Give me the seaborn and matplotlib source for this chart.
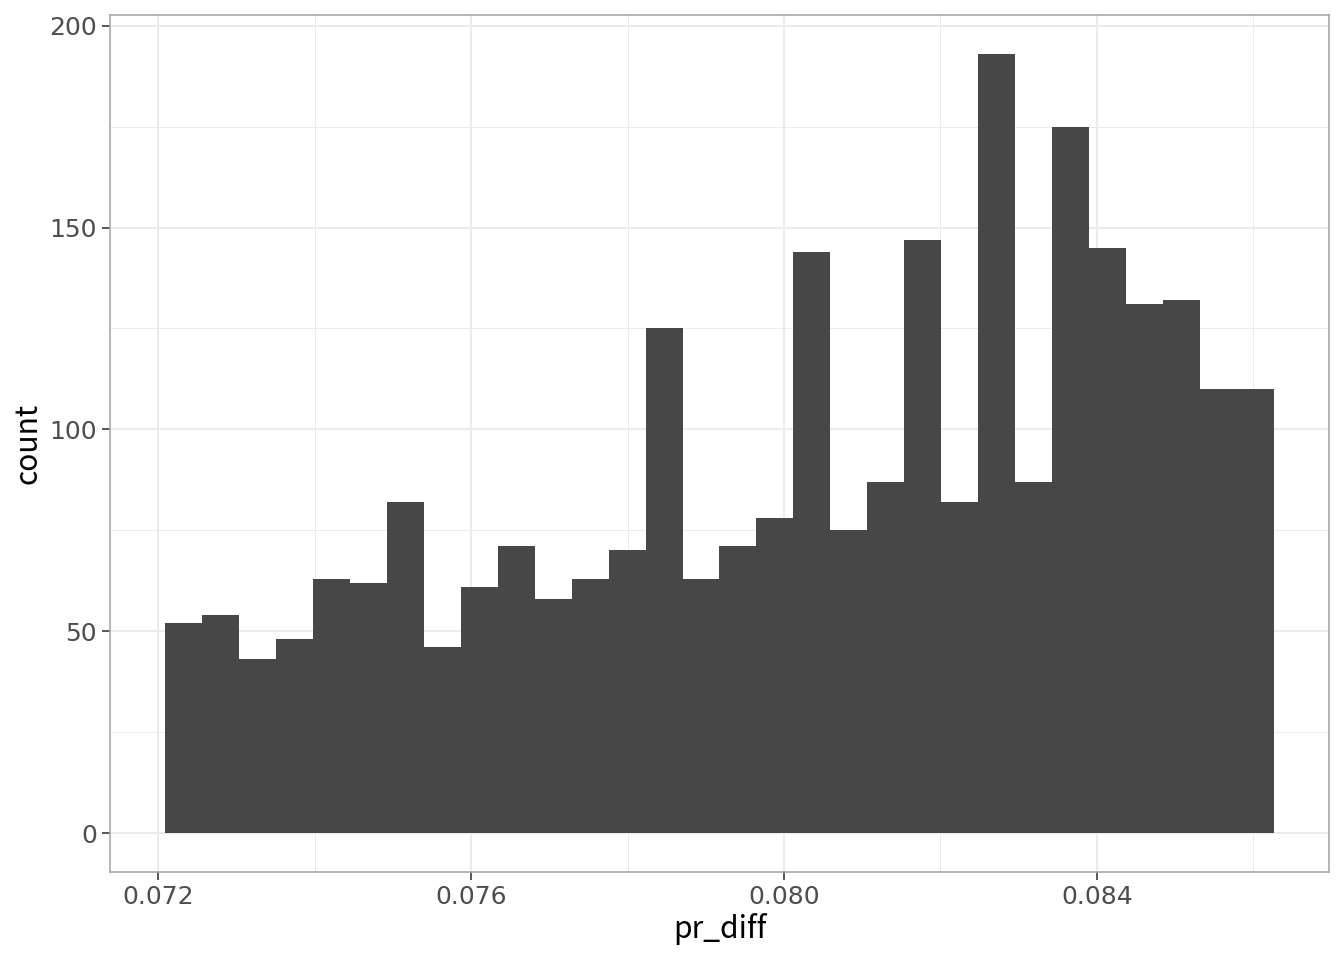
import numpy as np
import pandas as pd
import seaborn as sns
from matplotlib import pyplot as plt
from matplotlib.ticker import MultipleLocator

# histogram of pr_diff: 30 bins, counts
bin_start = 0.07209
bin_width = 0.0004723
counts = [52, 54, 43, 48, 63, 62, 82, 46, 61, 71,
          58, 63, 70, 125, 63, 71, 78, 144, 75, 87,
          147, 82, 193, 87, 175, 145, 131, 132, 110, 110]
x_ticks = [0.072, 0.076, 0.080, 0.084]
x_tick_labels = ["0.072", "0.076", "0.080", "0.084"]
y_ticks = [0, 50, 100, 150, 200]

edges = bin_start + bin_width * np.arange(len(counts) + 1)
df = pd.DataFrame({
    "pr_diff": (edges[:-1] + edges[1:]) / 2,
    "n": counts,
})

sns.set_theme(style="white")
plt.rcParams["font.family"] = ["Noto Sans CJK JP", "DejaVu Sans"]

fig = plt.figure(figsize=(1344 / 144, 960 / 144), dpi=144)
ax = fig.add_axes([110 / 1344, 88 / 960, 1219 / 1344, 857 / 960])

sns.histplot(data=df, x="pr_diff", weights="n", bins=edges.tolist(),
             color="#474747", alpha=1, edgecolor="none", linewidth=0, ax=ax)

# ggplot-like 5% expansion
span = edges[-1] - edges[0]
ax.set_xlim(edges[0] - 0.05 * span, edges[-1] + 0.05 * span)
top = max(counts)
ax.set_ylim(-0.05 * top, top * 1.05)

ax.set_xticks(x_ticks)
ax.set_xticklabels(x_tick_labels)
ax.set_yticks(y_ticks)
ax.xaxis.set_minor_locator(MultipleLocator(0.002))
ax.yaxis.set_minor_locator(MultipleLocator(25))
ax.set_axisbelow(True)
ax.grid(which="major", color="#EBEBEB", linewidth=1.0)
ax.grid(which="minor", color="#EBEBEB", linewidth=0.5)

for s in ax.spines.values():
    s.set_color("#A6A6A6")
    s.set_linewidth(0.8)

ax.tick_params(which="major", length=4, width=0.8, color="#333333",
               labelsize=12.5, labelcolor="#4D4D4D", pad=2.5, bottom=True, left=True)
ax.tick_params(which="minor", length=0)
for lab in ax.get_xticklabels() + ax.get_yticklabels():
    lab.set_family("DejaVu Sans")

ax.set_xlabel("pr_diff", fontsize=15, color="black", labelpad=2)
ax.set_ylabel("count", fontsize=15, color="black", labelpad=3)

fig.savefig("out.png", dpi=144)
